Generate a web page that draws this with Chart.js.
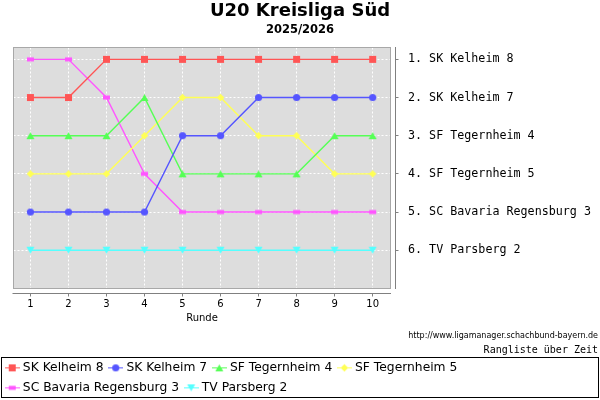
<!DOCTYPE html>
<html><head><meta charset="utf-8">
<script src="https://cdn.jsdelivr.net/npm/chart.js@4.4.0/dist/chart.umd.min.js"></script>
<style>html,body{margin:0;padding:0;background:#fff}canvas{display:block}</style>
</head><body>
<canvas id="c" width="600" height="400"></canvas>
<script>
// ---- data ----
const rounds = [1, 2, 3, 4, 5, 6, 7, 8, 9, 10];
const teams = ['SK Kelheim 8', 'SK Kelheim 7', 'SF Tegernheim 4', 'SF Tegernheim 5', 'SC Bavaria Regensburg 3', 'TV Parsberg 2'];
const kelheim8 = [2, 2, 1, 1, 1, 1, 1, 1, 1, 1];
const kelheim7 = [5, 5, 5, 5, 3, 3, 2, 2, 2, 2];
const tegernheim4 = [3, 3, 3, 2, 4, 4, 4, 4, 3, 3];
const tegernheim5 = [4, 4, 4, 3, 2, 2, 3, 3, 4, 4];
const bavaria3 = [1, 1, 2, 4, 5, 5, 5, 5, 5, 5];
const parsberg2 = [6, 6, 6, 6, 6, 6, 6, 6, 6, 6];
const ranks = [1, 2, 3, 4, 5, 6];
const rankLabels = ['1. SK Kelheim 8', '2. SK Kelheim 7', '3. SF Tegernheim 4', '4. SF Tegernheim 5', '5. SC Bavaria Regensburg 3', '6. TV Parsberg 2'];
const chartTitle = 'U20 Kreisliga Süd';
const chartSubtitle = '2025/2026';
const xTitle = 'Runde';
const sourceText = 'http://www.ligamanager.schachbund-bayern.de';
const footerText = 'Rangliste über Zeit';

// ---- styles ----
const series = [kelheim8, kelheim7, tegernheim4, tegernheim5, bavaria3, parsberg2];
const colors = ['#ff5555', '#5555ff', '#55ff55', '#ffff55', '#ff55ff', '#55ffff'];
const shapes = ['square', 'circle', 'triangle', 'diamond', 'hrect', 'downtri'];

function drawShape(g, shape, cx, cy) {
  g.beginPath();
  switch (shape) {
    case 'square': g.rect(cx - 3.5, cy - 3.5, 7, 7); break;
    case 'circle': g.arc(cx, cy, 3.6, 0, Math.PI * 2); break;
    case 'triangle': g.moveTo(cx, cy - 3.5); g.lineTo(cx + 4, cy + 3.5); g.lineTo(cx - 4, cy + 3.5); g.closePath(); break;
    case 'diamond': g.moveTo(cx, cy - 3.8); g.lineTo(cx + 3.8, cy); g.lineTo(cx, cy + 3.8); g.lineTo(cx - 3.8, cy); g.closePath(); break;
    case 'hrect': g.rect(cx - 3.5, cy - 2, 7, 4); break;
    case 'downtri': g.moveTo(cx - 4, cy - 3.5); g.lineTo(cx + 4, cy - 3.5); g.lineTo(cx, cy + 3.5); g.closePath(); break;
  }
  g.fill();
}
function makeMarker(shape, color) {
  const c = document.createElement('canvas'); c.width = 9; c.height = 9;
  const g = c.getContext('2d'); g.fillStyle = color;
  drawShape(g, shape, 4.5, 4.5);
  return c;
}
function makeLegendIcon(shape, color) {
  const c = document.createElement('canvas'); c.width = 15; c.height = 9;
  const g = c.getContext('2d'); g.fillStyle = color;
  g.fillRect(0, 4, 15, 1);
  drawShape(g, shape, 7.5, 4.5);
  return c;
}
const markers = shapes.map((s, i) => makeMarker(s, colors[i]));
const legendIcons = shapes.map((s, i) => makeLegendIcon(s, colors[i]));

Chart.defaults.font.family = '"DejaVu Sans", sans-serif';
Chart.defaults.color = '#000';

const decor = {
  id: 'decor',
  beforeDraw(chart) {
    const { ctx, chartArea: a } = chart;
    ctx.save();
    ctx.fillStyle = '#dddddd';
    ctx.fillRect(a.left, a.top, a.right - a.left, a.bottom - a.top);
    ctx.restore();
  },
  afterDraw(chart) {
    const { ctx, chartArea: a } = chart;
    const x = chart.scales.x, y = chart.scales.y;
    const p = v => Math.floor(v) + 0.5;
    ctx.save();
    ctx.lineWidth = 1;
    ctx.strokeStyle = '#a8a8a8';
    ctx.strokeRect(p(a.left), p(a.top), p(a.right) - p(a.left), p(a.bottom) - p(a.top));
    ctx.strokeStyle = '#808080';
    ctx.beginPath();
    const ax = p(a.right + 5);
    ctx.moveTo(ax, p(a.top) - 0.5); ctx.lineTo(ax, p(a.bottom) + 0.5);
    ranks.forEach(r => { const yy = p(y.getPixelForValue(r)); ctx.moveTo(ax, yy); ctx.lineTo(ax + 3, yy); });
    const ay = p(a.bottom + 5);
    ctx.moveTo(p(a.left) - 1, ay); ctx.lineTo(p(a.right) + 0.5, ay);
    rounds.forEach(r => { const xx = p(x.getPixelForValue(r)); ctx.moveTo(xx, ay); ctx.lineTo(xx, ay + 3); });
    ctx.stroke();
    ctx.fillStyle = '#000';
    ctx.textAlign = 'right';
    ctx.textBaseline = 'middle';
    ctx.font = '8px "DejaVu Sans"';
    ctx.fillText(sourceText, 598, 336);
    ctx.font = '10px "DejaVu Sans Mono"';
    ctx.fillText(footerText, 598, 350);
    const lg = chart.legend;
    ctx.strokeStyle = '#000';
    ctx.strokeRect(1.5, lg.top + 3.5, 597, 40);
    ctx.restore();
  }
};

new Chart(document.getElementById('c'), {
  type: 'line',
  data: {
    datasets: series.map((vals, i) => ({
      label: teams[i],
      data: vals.map((v, j) => ({ x: rounds[j], y: v })),
      borderColor: colors[i],
      backgroundColor: colors[i],
      borderWidth: 1.4,
      pointStyle: markers[i],
      pointRadius: 4,
      pointBorderWidth: 0,
      tension: 0,
      fill: false,
      xAxisID: 'x',
      yAxisID: 'y'
    }))
  },
  options: {
    responsive: false,
    animation: false,
    devicePixelRatio: 1,
    layout: { padding: { left: 0, right: 0, top: 0, bottom: -4 } },
    events: [],
    scales: {
      pad: {
        type: 'linear', position: 'left', display: true,
        grid: { display: false }, border: { display: false }, ticks: { display: false },
        afterFit: s => { s.width = 13.5; }
      },
      x: {
        type: 'linear', position: 'bottom', min: 0.555, max: 10.47,
        afterBuildTicks: s => { s.ticks = rounds.map(v => ({ value: v })); },
        afterFit: s => { s.height = 66; },
        grid: { color: '#ffffff', lineWidth: 1, drawTicks: false },
        border: { display: false, dash: [2, 2] },
        ticks: { autoSkip: false, maxRotation: 0, padding: 10, color: '#000', font: { size: 10 }, callback: v => String(v) },
        title: { display: true, text: xTitle, color: '#000', font: { size: 10 }, padding: { top: 0, bottom: 30 } }
      },
      y: {
        type: 'linear', position: 'right', reverse: true, min: 0.69, max: 6.99,
        afterBuildTicks: s => { s.ticks = ranks.map(v => ({ value: v })); },
        afterFit: s => { s.width = 209.5; },
        grid: { color: '#ffffff', lineWidth: 1, drawTicks: false },
        border: { display: false, dash: [2, 2] },
        ticks: { autoSkip: false, padding: 17.5, color: '#000', font: { family: '"DejaVu Sans Mono", monospace', size: 11.7 }, callback: v => rankLabels[ranks.indexOf(v)] || '' }
      }
    },
    plugins: {
      title: { display: true, text: chartTitle, color: '#000', font: { size: 18, weight: 'bold' }, padding: { top: 1, bottom: 0 } },
      subtitle: { display: true, text: chartSubtitle, color: '#000', font: { size: 11.5, weight: 'bold' }, padding: { top: 1, bottom: 10.1 } },
      tooltip: { enabled: false },
      legend: {
        position: 'bottom', align: 'start',
        labels: {
          usePointStyle: true, pointStyleWidth: 9, padding: 7.7, color: '#000', font: { size: 12.3 },
          generateLabels: chart => chart.data.datasets.map((d, i) => ({
            text: d.label, pointStyle: legendIcons[i], fillStyle: d.borderColor, strokeStyle: d.borderColor,
            lineWidth: 0, hidden: false, datasetIndex: i, fontColor: '#000'
          }))
        }
      }
    }
  },
  plugins: [decor]
});
</script>
</body></html>
